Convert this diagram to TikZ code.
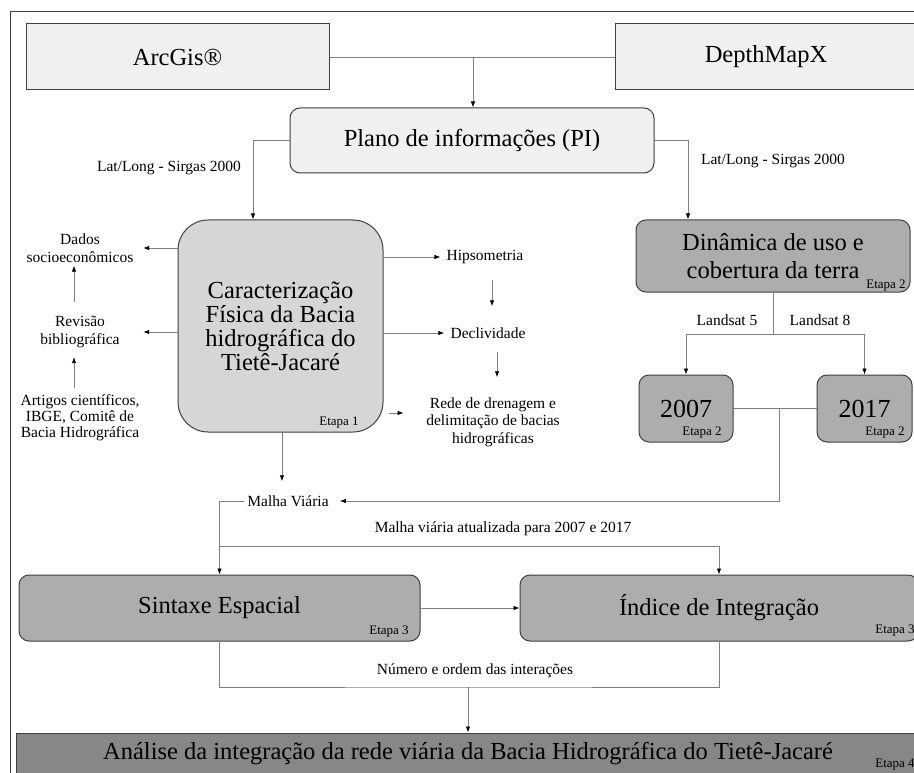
\documentclass[tikz,border=0pt]{standalone}
\usepackage{fontspec}
\setmainfont{Liberation Serif}
\usetikzlibrary{arrows.meta}

\definecolor{boxlight}{gray}{0.94}
\definecolor{boxmid}{gray}{0.84}
\definecolor{boxdark}{gray}{0.68}
\definecolor{boxdeep}{gray}{0.53}
\definecolor{boxline}{gray}{0.25}
\definecolor{linkgray}{gray}{0.5}

\begin{document}
\begin{tikzpicture}[x=1pt, y=-1pt,
    plain/.style={draw=boxline, line width=1pt, fill=boxlight, inner sep=0pt, align=center, font=\fontsize{24.5}{28}\selectfont},
    roundbox/.style={plain, rounded corners=10pt},
    note/.style={inner sep=3pt, align=center, font=\fontsize{15.5}{18}\selectfont},
    etapa/.style={inner sep=0pt, font=\fontsize{13}{13}\selectfont},
    link/.style={draw=linkgray, line width=0.8pt},
    arr/.style={link, -{Latex[length=6pt, width=4.5pt, color=black]}}]

    \clip (0, 0) rectangle (914, 773);
    \fill[white] (0, 0) rectangle (914, 773);
    \draw[boxline, line width=1pt] (10, 800) |- (930, 12);

    \node[plain, minimum width=303pt, minimum height=66pt] (arcgis) at (177.5, 57) {ArcGis®};
    \node[plain, minimum width=302pt, minimum height=66pt] (depthmap) at (766, 57) {DepthMapX};
    \node[roundbox, minimum width=364pt, minimum height=65pt] (plano) at (472, 140.5) {Plano de informações (PI)};

    \node[note] (latlong1) at (169, 168) {Lat/Long - Sirgas 2000};
    \node[note] (latlong2) at (773, 161) {Lat/Long - Sirgas 2000};

    \node[roundbox, fill=boxmid, rounded corners=30pt, minimum width=205pt, minimum height=212pt, font=\fontsize{24.5}{24}\selectfont] (caract) at (280.5, 326) {Caracterização\\Física da Bacia\\hidrográfica do\\Tietê-Jacaré};
    \node[etapa] (etapa1) at (339, 423) {Etapa 1};

    \node[note, text width=120pt] (dados) at (80, 248) {Dados\\socioeconômicos};
    \node[note, text width=120pt] (revisao) at (80, 332) {Revisão\\bibliográfica};
    \node[note, font=\fontsize{15.5}{16}\selectfont] (artigos) at (80, 418) {Artigos científicos,\\IBGE, Comitê de\\Bacia Hidrográfica};

    \node[note, inner sep=6pt] (hipso) at (485, 257) {Hipsometria};
    \node[note, inner sep=6pt] (decliv) at (488, 333) {Declividade};
    \node[note, font=\fontsize{15.5}{17.5}\selectfont] (rede) at (493, 422) {Rede de drenagem e\\delimitação de bacias\\hidrográficas};

    \node[roundbox, fill=boxdark, minimum width=274pt, minimum height=72pt] (dinamica) at (773, 256) {Dinâmica de uso e\\cobertura da terra};
    \node[etapa] (etapa2a) at (886, 286) {Etapa 2};

    \node[note] (landsat5) at (727, 320) {Landsat 5};
    \node[note] (landsat8) at (820, 320) {Landsat 8};

    \node[roundbox, fill=boxdark, minimum width=94pt, minimum height=67pt, font=\fontsize{26}{26}\selectfont] (ano2007) at (686, 408.5) {2007};
    \node[roundbox, fill=boxdark, minimum width=95pt, minimum height=67pt, font=\fontsize{26}{26}\selectfont] (ano2017) at (864.5, 408.5) {2017};
    \node[etapa] (etapa2b) at (702, 433) {Etapa 2};
    \node[etapa] (etapa2c) at (885, 433) {Etapa 2};

    \node[note] (malha) at (288, 501) {Malha Viária};
    \node[note] (malhaatual) at (503, 529) {Malha viária atualizada para 2007 e 2017};

    \node[roundbox, fill=boxdark, minimum width=401pt, minimum height=66pt] (sintaxe) at (219.5, 608) {Sintaxe Espacial};
    \node[roundbox, fill=boxdark, minimum width=398pt, minimum height=66pt] (indice) at (719, 608) {Índice de Integração};
    \node[etapa] (etapa3a) at (389, 632) {Etapa 3};
    \node[etapa] (etapa3b) at (895, 631) {Etapa 3};

    \node[note] (numero) at (475, 671) {Número e ordem das interações};

    \node[plain, fill=boxdeep, minimum width=902pt, minimum height=66pt] (analise) at (467, 766) {};
    \node[inner sep=0pt, font=\fontsize{24.5}{28}\selectfont] (analisetxt) at (468, 754) {Análise da integração da rede viária da Bacia Hidrográfica do Tietê-Jacaré};
    \node[etapa] (etapa4) at (895, 765) {Etapa 4};

    \coordinate (fontes) at (473, 57);
    \coordinate (divisao) at (773, 334);
    \coordinate (juncao) at (779, 408.5);
    \coordinate (bifurca) at (219.5, 546);
    \coordinate (uniao) at (468, 687);

    \draw[link] (arcgis) -- (depthmap);
    \draw[arr] (fontes) -- (fontes |- plano.north);
    \draw[arr] (plano.west) -| ([xshift=-27.5pt]caract.north);
    \draw[arr] (plano.east) -| ([xshift=-85pt]dinamica.north);

    \draw[arr] (caract.west |- dados) -- (dados.east);
    \draw[arr] (caract.west |- revisao) -- (revisao.east);
    \draw[arr, shorten <=4pt, shorten >=6pt] ([xshift=-6pt]artigos.north) -- ([xshift=-6pt]revisao.south);
    \draw[arr, shorten <=11pt] ([xshift=-6pt]revisao.north) -- ([xshift=-6pt]dados.south);

    \draw[arr] (caract.east |- hipso) -- (hipso.west);
    \draw[arr] (caract.east |- decliv) -- (decliv.west);
    \draw[arr, shorten <=10pt, shorten >=15pt] ([xshift=7pt]hipso.south) -- ([xshift=7pt]hipso.south |- decliv.north);
    \draw[arr, shorten <=7pt, shorten >=17pt] ([xshift=9pt]decliv.south) -- ([xshift=9pt]decliv.south |- rede.north);
    \draw[arr] ([xshift=5pt, yshift=-87pt]caract.east) -- ++(15, 0);

    \draw[link] (dinamica.south) -- (divisao);
    \draw[arr] (divisao) -| (ano2007.north);
    \draw[arr] (divisao) -| (ano2017.north);
    \draw[link] (ano2007.east) -- (ano2017.west);
    \draw[arr, shorten >=8pt] (juncao) |- (malha.east);

    \draw[arr, shorten >=11pt] ([xshift=1.5pt]caract.south) -- ([xshift=1.5pt]caract.south |- malha.north);
    \draw[arr] (malha.west) -| (sintaxe.north);
    \draw[arr] (bifurca) -| (indice.north);
    \draw[arr] (sintaxe.east) -- (indice.west);

    \draw[link] (sintaxe.south) |- (uniao) -| (indice.south);
    \draw[arr] (uniao) -- (uniao |- analise.north);
\end{tikzpicture}
\end{document}
